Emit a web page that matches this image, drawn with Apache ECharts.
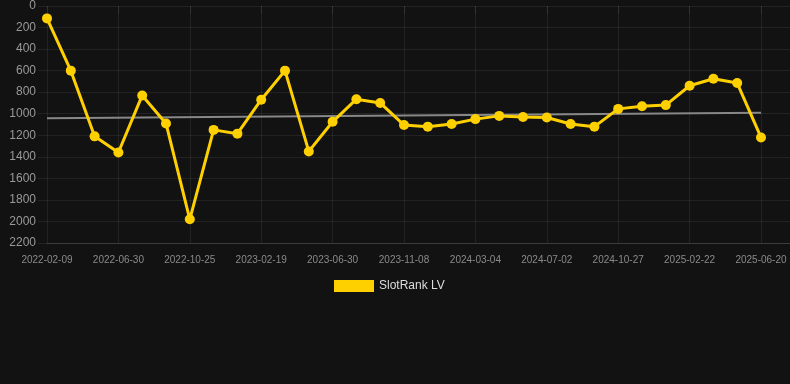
<!DOCTYPE html>
<html>
<head>
<meta charset="utf-8">
<script src="https://cdn.jsdelivr.net/npm/echarts@6/dist/echarts.min.js"></script>
<style>
html,body{margin:0;padding:0;background:#121212;}
#c{width:790px;height:384px;}
</style>
</head>
<body>
<div id="c"></div>
<script>
const dates = ['2022-02-09','2022-03-26','2022-05-15','2022-06-30','2022-08-08','2022-09-16','2022-10-25','2022-12-03','2023-01-11','2023-02-19','2023-04-03','2023-05-17','2023-06-30','2023-08-13','2023-09-26','2023-11-08','2023-12-17','2024-01-25','2024-03-04','2024-04-13','2024-05-23','2024-07-02','2024-08-10','2024-09-18','2024-10-27','2024-12-05','2025-01-13','2025-02-22','2025-04-01','2025-05-10','2025-06-20'];
const rankValues = [115,600,1210,1360,830,1090,1980,1150,1185,870,600,1350,1075,865,900,1105,1120,1095,1050,1020,1030,1035,1095,1120,955,930,920,740,675,715,1220];
const trendValues = [1041, 992];
const yTicks = {min:0, max:2200, interval:200};
const seriesName = 'SlotRank LV';

const font = 'Liberation Sans, Arial, Helvetica, sans-serif';
const gridColor = 'rgba(255,255,255,0.07)';
const chart = echarts.init(document.getElementById('c'));
chart.setOption({
  backgroundColor:'#121212',
  animation:false,
  textStyle:{fontFamily:font},
  legend:{
    data:[seriesName], top:275, left:329,
    itemWidth:40, itemHeight:12, icon:'rect', itemGap:10,
    textStyle:{color:'#dddddd', fontSize:12, fontFamily:font}
  },
  grid:[
    {left:47, right:29, top:6, bottom:141},
    {left:47, right:0, top:6, bottom:141}
  ],
  xAxis:[
    {type:'category', gridIndex:0, data:dates, boundaryGap:false,
     axisLine:{show:false},
     axisTick:{show:true, interval:2, length:8, lineStyle:{color:gridColor}},
     axisLabel:{interval:2, color:'#8a8a8a', fontSize:10, margin:12, fontFamily:font},
     splitLine:{show:true, interval:2, lineStyle:{color:gridColor, width:1}}},
    {type:'value', gridIndex:1, min:0, max:1, show:true,
     axisLine:{show:true, onZero:false, lineStyle:{color:'rgba(255,255,255,0.12)'}},
     axisTick:{show:false}, axisLabel:{show:false}, splitLine:{show:false}}
  ],
  yAxis:[
    {type:'value', gridIndex:0, inverse:true, min:yTicks.min, max:yTicks.max, interval:yTicks.interval,
     axisLine:{show:false}, axisTick:{show:false}, axisLabel:{show:false}, splitLine:{show:false}},
    {type:'value', gridIndex:1, inverse:true, min:yTicks.min, max:yTicks.max, interval:yTicks.interval,
     axisLine:{show:false},
     axisTick:{show:true, length:9, lineStyle:{color:gridColor}},
     axisLabel:{color:'#999999', fontSize:12, margin:11, fontFamily:font, formatter:function(v){return String(v);}},
     splitLine:{show:true, lineStyle:{color:gridColor, width:1}}}
  ],
  series:[
    {name:'trend', type:'line', xAxisIndex:0, yAxisIndex:0,
     data:[[dates[0], trendValues[0]], [dates[dates.length-1], trendValues[1]]],
     symbol:'none', lineStyle:{color:'#888888', width:2}, z:1, silent:true},
    {name:seriesName, type:'line', xAxisIndex:0, yAxisIndex:0, data:rankValues,
     symbol:'circle', symbolSize:10, showAllSymbol:true,
     itemStyle:{color:'#ffd000'}, lineStyle:{color:'#ffd000', width:3}, z:3}
  ]
});
</script>
</body>
</html>
